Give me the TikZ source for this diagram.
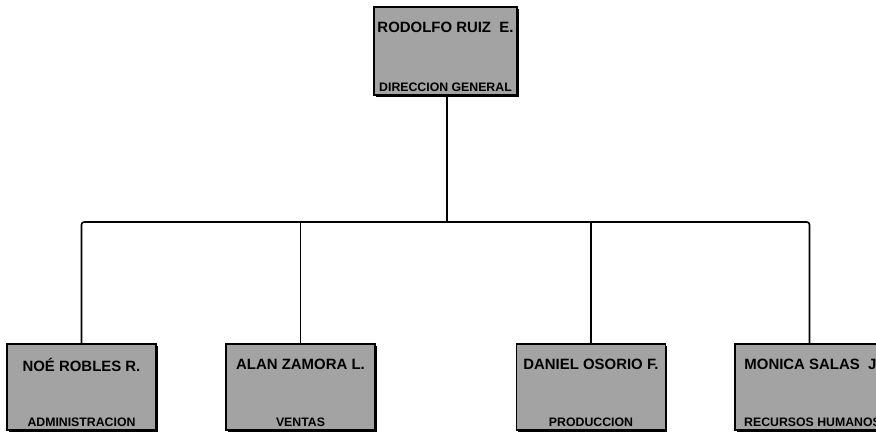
\documentclass[tikz,border=0pt]{standalone}
\usepackage{fontspec}
\setmainfont{Liberation Sans}
\usetikzlibrary{positioning,shadows}

\begin{document}
\begin{tikzpicture}[x=0.02cm, y=-0.02cm,
  puesto/.style={rectangle, draw, line width=0.8pt, fill=black!36, inner sep=0pt,
    drop shadow={shadow xshift=0.9pt, shadow yshift=-0.9pt, fill=black, opacity=1}},
  jefe/.style={puesto, minimum width=2.86cm, minimum height=1.76cm},
  area/.style={puesto, minimum width=2.98cm, minimum height=1.72cm},
  nombre/.style={inner sep=0pt, font=\fontsize{8.5}{10}\selectfont\bfseries},
  depto/.style={inner sep=0pt, font=\fontsize{7}{8}\selectfont\bfseries},
  rama/.style={line width=0.9pt, rounded corners=1.5pt}]
\fill[white] (0,0) rectangle (876,434);
\clip (0,0) rectangle (876,434);
% cajas
\node[jefe] (dg) at (445.5,51) {};
\node[area] (adm) at (81.5,387) {};
\node[area] (ven) at (300.5,387) {};
\node[area] (prod) at (591,387) {};
\node[area] (rh) at (809.5,387) {};
% nombres y puestos
\node[nombre, below=0.3cm of dg.north] (dgN) {RODOLFO RUIZ\ \ E.};
\node[depto, above=0.08cm of dg.south] (dgD) {DIRECCION GENERAL};
\node[nombre, below=0.3cm of adm.north] (admN) {NOÉ ROBLES R.};
\node[depto, above=0.07cm of adm.south] (admD) {ADMINISTRACION};
\node[nombre, below=0.3cm of ven.north] (venN) {ALAN ZAMORA L.};
\node[depto, above=0.07cm of ven.south] (venD) {VENTAS};
\node[nombre, below=0.3cm of prod.north] (prodN) {DANIEL OSORIO F.};
\node[depto, above=0.07cm of prod.south] (prodD) {PRODUCCION};
\node[nombre, below=0.3cm of rh.north, xshift=0.06cm] (rhN) {MONICA SALAS\ \ J.};
\node[depto, above=0.07cm of rh.south, xshift=0.06cm] (rhD) {RECURSOS HUMANOS};
% lineas
\coordinate (bus) at (447,222);
\draw[rama] (dg.south -| bus) -- (bus);
\draw[rama] (adm.north) |- (bus) -| (rh.north);
\draw[rama] (ven.north) -- (ven.north |- bus);
\draw[rama] (prod.north) -- (prod.north |- bus);
\end{tikzpicture}
\end{document}
